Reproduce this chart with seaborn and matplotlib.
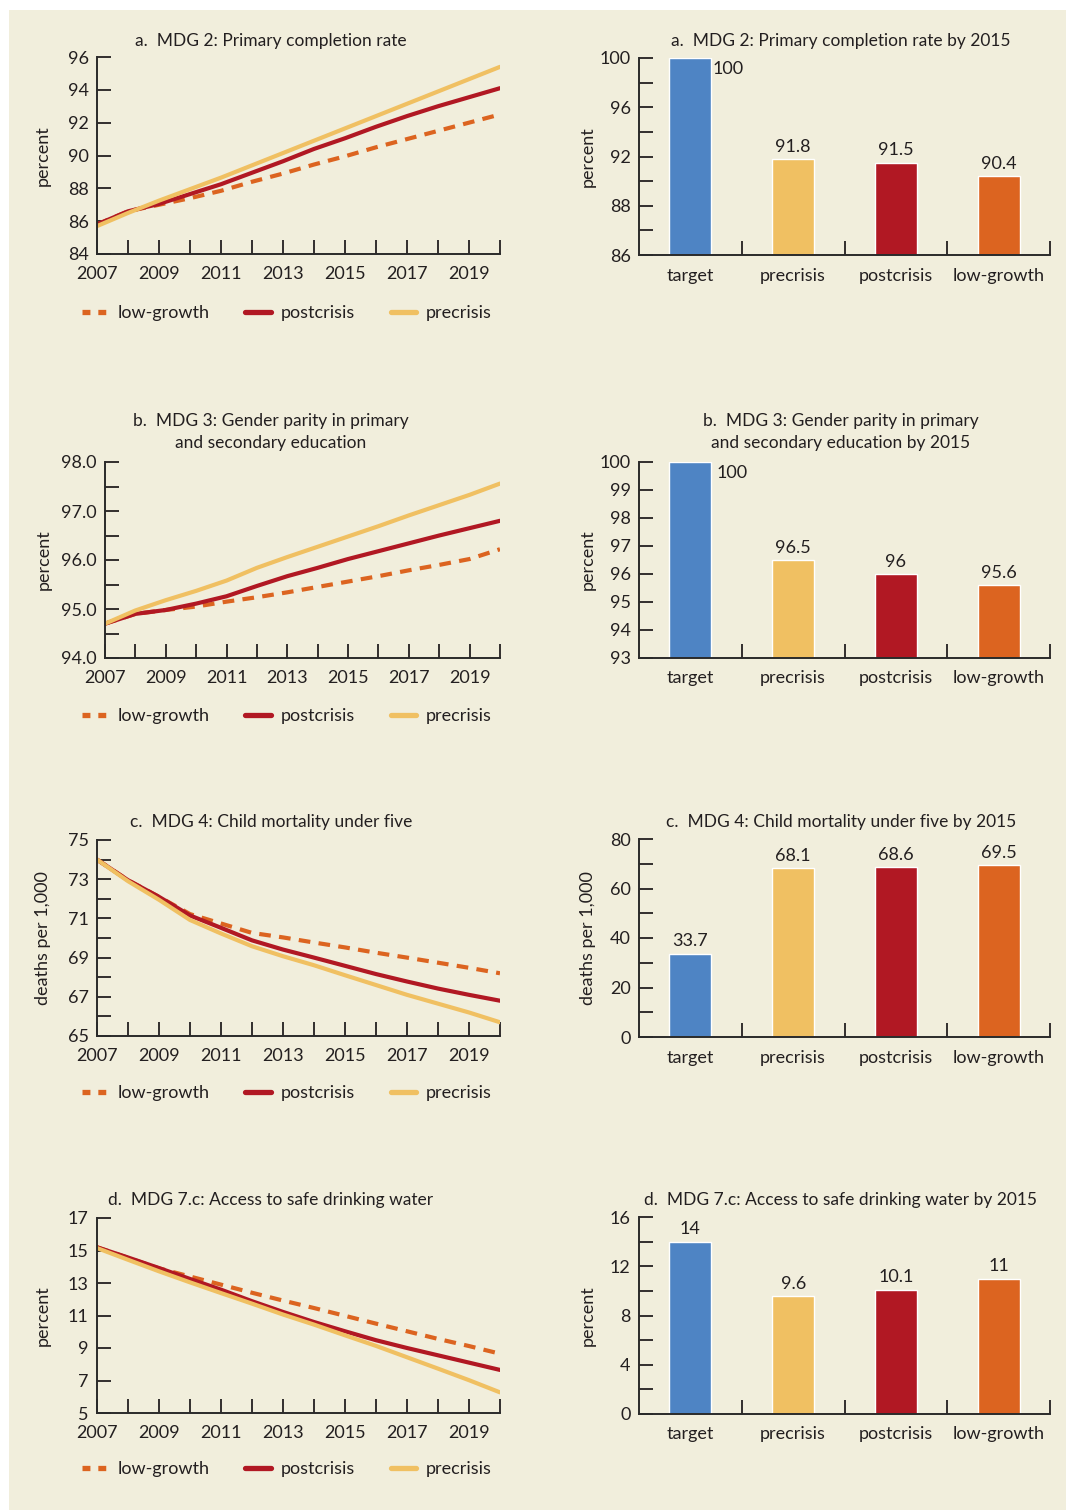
import matplotlib
matplotlib.use('Agg')
import matplotlib.pyplot as plt
import matplotlib.patches as mpatches
from matplotlib.ticker import MultipleLocator, FixedLocator
import seaborn as sns
import pandas as pd

# ---- data ----
years = list(range(2007, 2021))
scenarios = ['low-growth', 'postcrisis', 'precrisis']
bar_cats = ['target', 'precrisis', 'postcrisis', 'low-growth']

# a. MDG 2: primary completion rate (percent)
a_low = [85.8, 86.6, 87.0, 87.4, 87.85, 88.4, 88.9, 89.45, 89.95, 90.5, 91.0, 91.5, 92.0, 92.5]
a_post = [85.8, 86.6, 87.05, 87.65, 88.25, 88.95, 89.65, 90.4, 91.05, 91.75, 92.4, 93.0, 93.55, 94.1]
a_pre = [85.7, 86.5, 87.25, 87.95, 88.65, 89.4, 90.15, 90.9, 91.65, 92.4, 93.15, 93.9, 94.65, 95.4]
a_bars = [100, 91.8, 91.5, 90.4]

# b. MDG 3: gender parity (percent)
b_low = [94.7, 94.9, 94.98, 95.05, 95.15, 95.24, 95.34, 95.45, 95.56, 95.67, 95.79, 95.9, 96.02, 96.22]
b_post = [94.7, 94.9, 94.98, 95.11, 95.26, 95.47, 95.67, 95.84, 96.02, 96.18, 96.34, 96.5, 96.65, 96.8]
b_pre = [94.7, 94.97, 95.18, 95.37, 95.58, 95.84, 96.06, 96.27, 96.48, 96.69, 96.91, 97.12, 97.33, 97.56]
b_bars = [100, 96.5, 96, 95.6]

# c. MDG 4: child mortality under five (deaths per 1,000)
c_low = [74.0, 72.95, 72.1, 71.22, 70.74, 70.26, 70.03, 69.77, 69.52, 69.25, 69.0, 68.74, 68.48, 68.2]
c_post = [74.0, 72.95, 72.1, 71.15, 70.52, 69.88, 69.41, 69.0, 68.58, 68.16, 67.78, 67.42, 67.1, 66.8]
c_pre = [74.0, 72.9, 71.95, 70.92, 70.23, 69.58, 69.07, 68.61, 68.1, 67.6, 67.1, 66.65, 66.2, 65.7]
c_bars = [33.7, 68.1, 68.6, 69.5]

# d. MDG 7.c: access to safe drinking water (percent)
d_low = [15.2, 14.55, 13.9, 13.4, 12.9, 12.4, 11.92, 11.46, 10.98, 10.5, 10.03, 9.56, 9.12, 8.65]
d_post = [15.2, 14.57, 13.92, 13.25, 12.59, 11.88, 11.22, 10.6, 10.03, 9.48, 9.0, 8.55, 8.1, 7.65]
d_pre = [15.15, 14.43, 13.72, 13.04, 12.38, 11.73, 11.06, 10.44, 9.78, 9.13, 8.43, 7.73, 7.02, 6.27]
d_bars = [14, 9.6, 10.1, 11]

# y tick values per line panel
a_yticks = [84, 86, 88, 90, 92, 94, 96]
b_yticks = [94, 95, 96, 97, 98]
c_yticks = [65, 67, 69, 71, 73, 75]
d_yticks = [5, 7, 9, 11, 13, 15, 17]

line_colors = {'low-growth': '#DC6420', 'postcrisis': '#B11823', 'precrisis': '#F0C062'}
bar_colors = {'target': '#4E84C4', 'precrisis': '#F0C062', 'postcrisis': '#B11823', 'low-growth': '#DC6420'}
beige = '#F1EEDC'
ink = '#231F20'

sns.set_theme(style='ticks')
plt.rcParams['font.family'] = ['Lato', 'DejaVu Sans']
plt.rcParams.update({'text.color': ink, 'axes.labelcolor': ink, 'xtick.color': ink,
                     'ytick.color': ink, 'axes.edgecolor': '#2a2a2a', 'axes.linewidth': 1.4})

W, H = 1067, 1510
fig = plt.figure(figsize=(W / 100, H / 100), dpi=100, facecolor='white')
fig.patches.append(mpatches.Rectangle((9 / W, 0), (1066 - 9) / W, 1 - 10 / H,
                                      transform=fig.transFigure, facecolor=beige,
                                      edgecolor='none', zorder=-10))


def px_axes(x0, y0, x1, y1):
    ax = fig.add_axes([x0 / W, 1 - y1 / H, (x1 - x0) / W, (y1 - y0) / H])
    ax.set_facecolor('none')
    return ax


def fig_text(x, y, s, **kw):
    fig.text(x / W, 1 - y / H, s, ha='center', va='center', **kw)


def line_panel(box, low, post, pre, yticks, minor, ylabel, fmt, legend_y, label_x):
    ax = px_axes(*box)
    df = pd.DataFrame({'year': years * 3,
                       'value': low + post + pre,
                       'scenario': [s for s in scenarios for _ in years]})
    sns.lineplot(data=df, x='year', y='value', hue='scenario', style='scenario',
                 hue_order=scenarios, style_order=scenarios, palette=line_colors,
                 dashes={'low-growth': (2.8, 2.0), 'postcrisis': '', 'precrisis': ''},
                 linewidth=3.0, legend=False, ax=ax)
    ax.set_xlim(2007, 2020)
    ax.set_ylim(yticks[0], yticks[-1])
    ax.set_xticks(years)
    ax.set_xticklabels([str(y) if y % 2 == 1 and y < 2020 else '' for y in years])
    ax.yaxis.set_major_locator(FixedLocator(yticks))
    if minor:
        ax.yaxis.set_minor_locator(FixedLocator(minor))
    ax.yaxis.set_major_formatter(fmt)
    ax.tick_params(axis='both', which='both', direction='in', length=10, width=1.3,
                   labelsize=13)
    ax.tick_params(axis='x', pad=8.5)
    ax.tick_params(axis='y', pad=6)
    ax.set_xlabel('')
    ax.set_ylabel(ylabel, fontsize=13)
    ax.yaxis.set_label_coords(label_x, 0.5)
    sns.despine(ax=ax)
    leg = ax.legend(handles=ax.lines[:3], labels=scenarios, ncol=3, loc='center',
                    bbox_to_anchor=(287 / W, 1 - legend_y / H), bbox_transform=fig.transFigure,
                    frameon=False, handlelength=1.4, columnspacing=2.0, handletextpad=0.55,
                    fontsize=13)
    # thicker legend keys, short square dashes for low-growth
    for h in leg.legend_handles:
        h.set_linewidth(3.8)
    leg.legend_handles[0].set_dashes((1.5, 1.5))
    return ax


def bar_panel(box, values, ylim, yticks, ylabels, minor, ylabel, inside_first, label_x):
    ax = px_axes(*box)
    df = pd.DataFrame({'scenario': bar_cats, 'value': values})
    sns.barplot(data=df, x='scenario', y='value', hue='scenario', order=bar_cats,
                hue_order=bar_cats, palette=bar_colors, width=0.41, saturation=1,
                legend=False, ax=ax)
    ax.set_xlim(-0.5, 3.5)
    ax.set_ylim(*ylim)
    ax.yaxis.set_major_locator(FixedLocator(yticks))
    ax.set_yticklabels(ylabels)
    if minor:
        ax.yaxis.set_minor_locator(MultipleLocator(minor))
    ax.set_xticks([0.5, 1.5, 2.5, 3.5], minor=True)
    ax.tick_params(axis='y', which='both', direction='in', length=10, width=1.3,
                   labelsize=13, pad=6)
    ax.tick_params(axis='x', which='major', length=0, labelsize=13, pad=9)
    ax.tick_params(axis='x', which='minor', direction='in', length=10, width=1.3)
    ax.set_xlabel('')
    ax.set_ylabel(ylabel, fontsize=13)
    ax.yaxis.set_label_coords(label_x, 0.5)
    sns.despine(ax=ax)
    for i, v in enumerate(values):
        if i == 0 and inside_first:
            ax.annotate(f'{v:g}', (0.205, v), xytext=(inside_first, -8),
                        textcoords='offset points', ha='left', va='center', fontsize=13)
        else:
            ax.annotate(f'{v:g}', (i, v), xytext=(0, 3), textcoords='offset points',
                        ha='center', va='bottom', fontsize=13)
    return ax


one_dec = plt.FormatStrFormatter('%.1f')
no_dec = plt.FormatStrFormatter('%d')

# left column: projections
line_panel((97, 57, 500, 254), a_low, a_post, a_pre, a_yticks, None, 'percent',
           no_dec, 313, -0.115)
line_panel((105, 462, 500, 658), b_low, b_post, b_pre, b_yticks,
           [94.5, 95.5, 96.5, 97.5], 'percent', one_dec, 716, -0.135)
line_panel((97, 840, 500, 1036), c_low, c_post, c_pre, c_yticks,
           [66, 68, 70, 72, 74], 'deaths per 1,000', no_dec, 1093, -0.115)
line_panel((97, 1218, 500, 1413), d_low, d_post, d_pre, d_yticks, None, 'percent',
           no_dec, 1469, -0.115)

# right column: values by 2015
bar_panel((639, 58, 1050, 255), a_bars, (84, 100), [84, 88, 92, 96, 100],
          ['86', '88', '92', '96', '100'], 2, 'percent', 0.5, -0.105)
bar_panel((639, 462, 1050, 658), b_bars, (93, 100), list(range(93, 101)),
          [str(t) for t in range(93, 101)], None, 'percent', 4, -0.105)
bar_panel((639, 839, 1050, 1037), c_bars, (0, 80), [0, 20, 40, 60, 80],
          ['0', '20', '40', '60', '80'], 10, 'deaths per 1,000', 0, -0.105)
bar_panel((639, 1217, 1050, 1414), d_bars, (0, 16), [0, 4, 8, 12, 16],
          ['0', '4', '8', '12', '16'], 2, 'percent', 0, -0.105)

# panel titles
fig_text(271, 41, 'a.  MDG 2: Primary completion rate', fontsize=12.5)
fig_text(841, 41, 'a.  MDG 2: Primary completion rate by 2015', fontsize=12.5)
fig_text(271, 432, 'b.  MDG 3: Gender parity in primary\nand secondary education',
         fontsize=12.5, linespacing=1.5)
fig_text(841, 432, 'b.  MDG 3: Gender parity in primary\nand secondary education by 2015',
         fontsize=12.5, linespacing=1.5)
fig_text(271, 822, 'c.  MDG 4: Child mortality under five', fontsize=12.5)
fig_text(841, 822, 'c.  MDG 4: Child mortality under five by 2015', fontsize=12.5)
fig_text(271, 1200, 'd.  MDG 7.c: Access to safe drinking water', fontsize=12.5)
fig_text(841, 1200, 'd.  MDG 7.c: Access to safe drinking water by 2015', fontsize=12.5)

fig.savefig('out.png', dpi=100, facecolor='white')
